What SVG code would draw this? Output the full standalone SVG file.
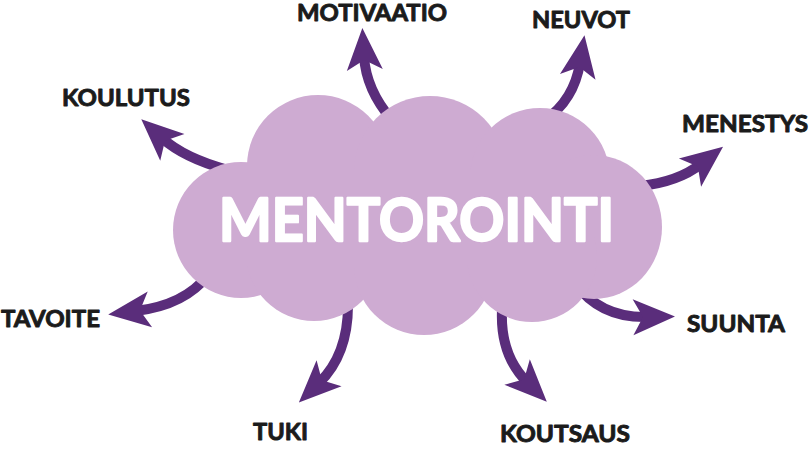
<svg xmlns="http://www.w3.org/2000/svg" width="809" height="450" viewBox="0 0 809 450">
<style>
.arr{fill:none;stroke:#5a2d7b;stroke-width:10;marker-end:url(#head)}
.cl{fill:#ceabd2}
.lbl{font-family:Lato,"Liberation Sans",sans-serif;font-weight:700;font-size:22.5px;fill:#1b1b1b;stroke:#1b1b1b;stroke-width:0.9;stroke-linejoin:round}
.title{font-family:Lato,"Liberation Sans",sans-serif;font-weight:700;font-size:59px;fill:#ffffff;stroke:#ffffff;stroke-width:2.4;stroke-linejoin:round}
</style>
<defs>
<marker id="head" markerUnits="userSpaceOnUse" markerWidth="50" markerHeight="40" viewBox="0 -20 46 40" refX="14" refY="0" orient="auto" overflow="visible">
<path d="M0,-18 L42,0 L0,18 L10,0 Z" fill="#5a2d7b"/>
</marker>
</defs>
<g id="connectors">
<path class="arr" d="M392,120 Q366,90 364,56"/>
<path class="arr" d="M545,120 Q574,100 580,63"/>
<path class="arr" d="M228,170 Q184,158 162,138"/>
<path class="arr" d="M640,186 Q678,182 701,164"/>
<path class="arr" d="M208,275 Q185,305 136,311"/>
<path class="arr" d="M348,305 Q348,355 319,383"/>
<path class="arr" d="M575,283 Q600,318 647,317"/>
<path class="arr" d="M502,310 Q500,355 527,382"/>
</g>
<g id="mentorointi">
<circle class="cl" cx="241" cy="230" r="68"/>
<circle class="cl" cx="318" cy="166" r="71"/>
<circle class="cl" cx="430" cy="172" r="76"/>
<circle class="cl" cx="540" cy="178" r="70"/>
<ellipse class="cl" cx="594" cy="227" rx="68" ry="72"/>
<circle class="cl" cx="314" cy="253" r="68"/>
<circle class="cl" cx="424" cy="265" r="70"/>
<circle class="cl" cx="532" cy="257" r="65"/>
<rect class="cl" x="240" y="170" width="354" height="95"/>
<text class="title" x="219" y="241" textLength="395" lengthAdjust="spacingAndGlyphs">MENTOROINTI</text>
</g>
<g id="motivaatio"><text class="lbl" x="297" y="20.5" textLength="150" lengthAdjust="spacingAndGlyphs">MOTIVAATIO</text></g>
<g id="neuvot"><text class="lbl" x="532" y="28" textLength="98" lengthAdjust="spacingAndGlyphs">NEUVOT</text></g>
<g id="koulutus"><text class="lbl" x="62" y="106" textLength="128" lengthAdjust="spacingAndGlyphs">KOULUTUS</text></g>
<g id="menestys"><text class="lbl" x="682" y="132" textLength="126" lengthAdjust="spacingAndGlyphs">MENESTYS</text></g>
<g id="tavoite"><text class="lbl" x="1" y="327" textLength="99" lengthAdjust="spacingAndGlyphs">TAVOITE</text></g>
<g id="tuki"><text class="lbl" x="253" y="440" textLength="55" lengthAdjust="spacingAndGlyphs">TUKI</text></g>
<g id="suunta"><text class="lbl" x="687" y="332" textLength="98" lengthAdjust="spacingAndGlyphs">SUUNTA</text></g>
<g id="koutsaus"><text class="lbl" x="500" y="442" textLength="130" lengthAdjust="spacingAndGlyphs">KOUTSAUS</text></g>
</svg>
